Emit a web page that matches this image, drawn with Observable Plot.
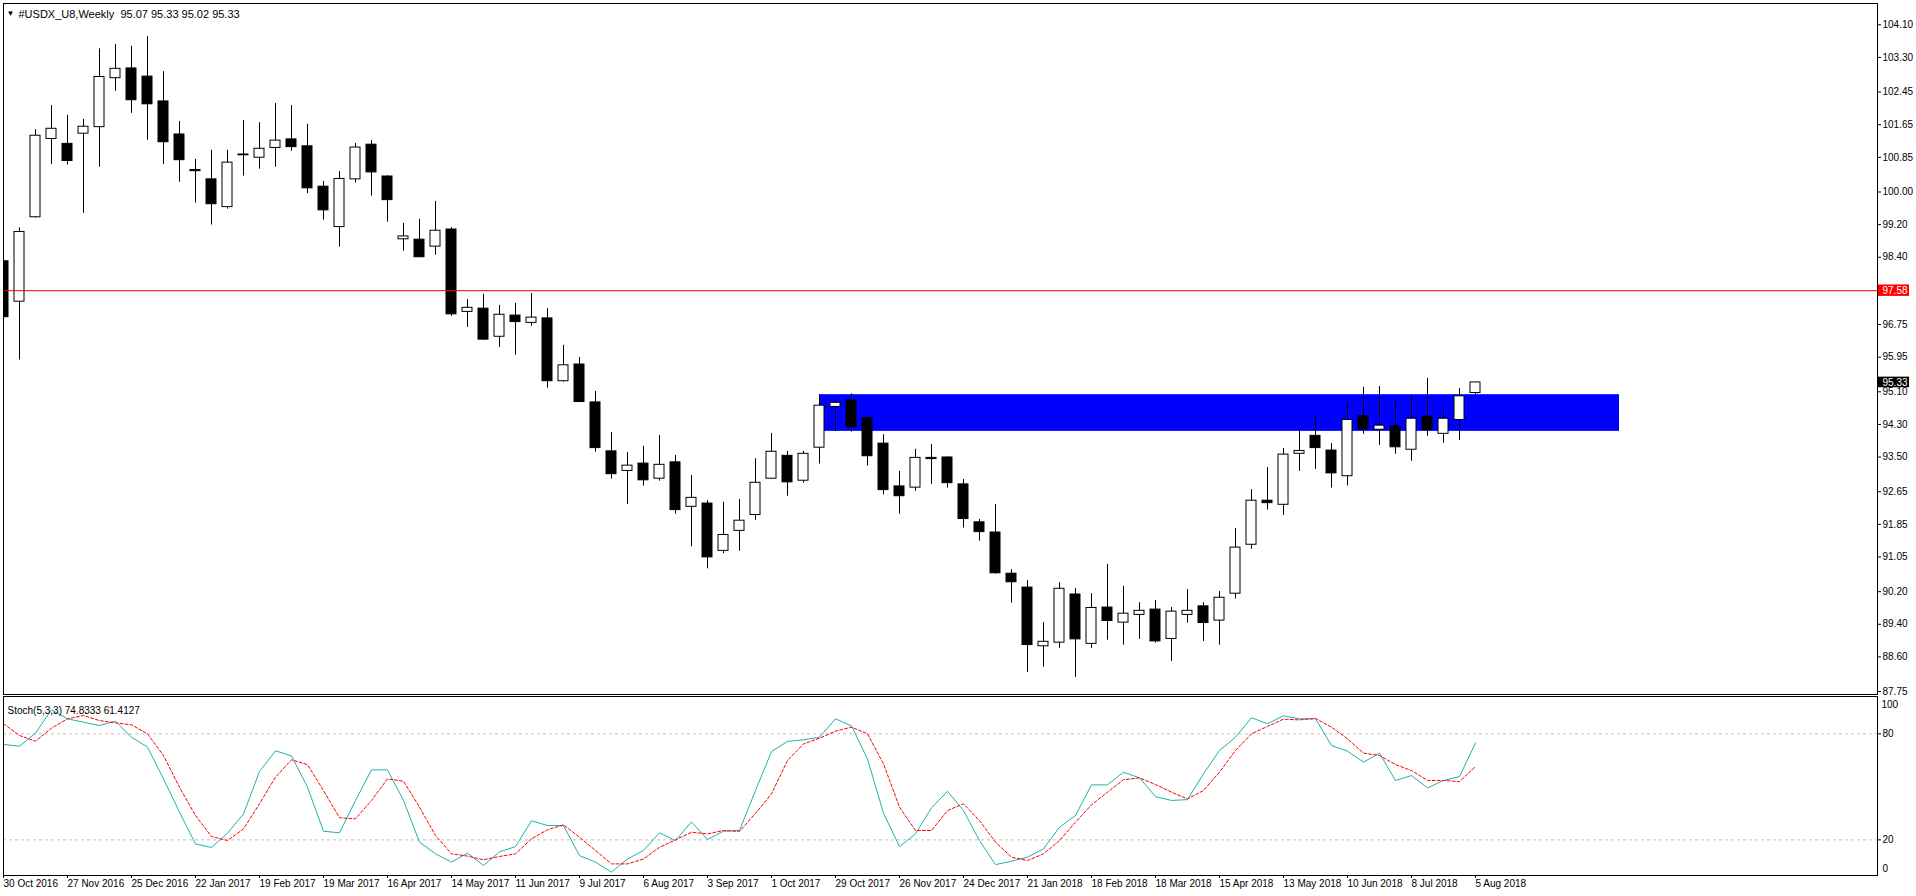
<!DOCTYPE html>
<html><head><meta charset="utf-8">
<script src="https://cdn.jsdelivr.net/npm/d3@7"></script>
<script src="https://cdn.jsdelivr.net/npm/@observablehq/plot@0.6"></script>
<style>
html,body{margin:0;padding:0;background:#fff;}
#wrap{position:relative;width:1916px;height:896px;overflow:hidden;background:#fff;}
#main,#stoch{position:absolute;left:0;}
#main{top:0;}
#stoch{top:695px;}
svg{background:transparent !important;overflow:visible;}
</style></head><body><div id="wrap"><div id="main"></div><div id="stoch"></div></div>
<script>
// ---- data (weekly candles, 30 Oct 2016 .. 5 Aug 2018) ----
const opens  = [98.30,97.31,99.38,101.30,101.18,101.43,101.59,102.79,103.03,102.83,102.22,101.41,100.54,100.31,99.63,100.92,100.84,101.08,101.29,101.12,100.13,99.14,100.31,101.16,100.38,98.84,98.83,98.66,99.08,97.06,97.14,96.45,96.97,96.79,96.90,95.36,95.77,94.84,93.64,93.16,93.34,92.97,93.37,92.28,92.36,91.20,91.69,92.08,92.97,93.53,92.92,93.73,94.73,94.89,94.45,93.83,92.78,92.75,93.48,93.49,92.83,91.90,91.65,90.64,90.30,88.86,88.95,90.13,88.92,89.81,89.44,89.63,89.76,89.04,89.63,89.84,89.49,90.15,91.35,92.43,92.33,93.58,94.02,93.66,93.03,94.51,94.17,94.25,93.68,94.49,94.07,94.41,95.07];
const highs  = [98.66,99.12,101.53,102.12,101.88,101.78,103.51,103.62,103.57,103.81,102.95,101.73,100.80,101.02,101.02,101.75,101.70,102.17,102.12,101.66,100.26,100.50,101.19,101.26,100.40,99.23,99.33,99.77,99.13,97.36,97.49,97.22,97.27,97.51,97.14,96.24,95.94,95.11,94.10,93.61,93.76,94.03,93.54,93.05,92.43,92.39,92.46,93.46,94.08,93.64,93.64,95.03,94.89,95.05,94.52,94.05,93.15,93.69,93.81,93.50,92.95,91.97,92.34,90.74,90.47,89.44,90.42,90.28,90.15,90.87,90.33,89.93,89.98,89.81,90.25,89.93,90.20,91.75,92.70,93.24,93.71,94.17,94.47,93.83,94.81,95.21,95.23,94.86,94.99,95.43,94.69,95.18,95.33];
const lows   = [96.90,95.88,99.36,100.67,100.66,99.48,100.61,102.47,101.93,101.27,100.67,100.24,99.73,99.19,99.58,100.39,100.56,100.61,101.00,99.96,99.31,98.65,100.22,99.90,99.26,98.55,98.39,98.45,96.95,96.68,96.36,96.19,96.00,96.71,95.19,95.34,94.84,93.62,92.96,92.34,92.79,92.91,92.10,91.30,90.76,91.13,91.19,91.95,92.96,92.54,92.86,93.33,94.13,94.11,93.28,92.57,92.10,92.66,92.83,92.74,91.76,91.44,90.63,89.92,88.22,88.35,88.81,88.10,88.81,89.01,88.89,89.03,88.94,88.49,89.43,88.98,88.89,90.02,91.24,92.20,92.07,93.15,93.20,92.74,92.79,94.06,93.79,93.57,93.40,94.01,93.84,93.91,95.02];
const closes = [96.93,99.02,101.38,101.55,100.76,101.60,102.82,103.02,102.25,102.15,101.22,100.78,100.51,99.70,100.72,100.90,101.06,101.26,101.10,100.09,99.55,100.32,101.09,100.48,99.80,98.91,98.40,99.05,97.00,97.16,96.38,96.99,96.81,96.92,95.36,95.75,94.85,93.72,93.08,93.29,92.93,93.31,92.20,92.50,91.04,91.59,91.94,92.87,93.63,92.88,93.58,94.76,94.83,94.23,93.52,92.69,92.54,93.48,93.45,92.86,91.98,91.66,90.65,90.43,88.89,88.97,90.27,89.03,89.80,89.48,89.66,89.73,88.98,89.71,89.73,89.43,90.05,91.28,92.43,92.37,93.56,93.65,93.72,93.10,94.41,94.18,94.27,93.74,94.44,94.16,94.44,94.99,95.33];

// Stochastic (5,3,3): %K main line and %D signal line
const stochK = [74.0,73.0,80.4,93.6,88.5,86.6,84.7,87.2,78.1,72.5,54.5,35.7,17.7,15.7,23.8,34.7,58.7,70.4,67.5,49.8,24.9,24.0,42.3,59.6,59.6,42.3,18.7,12.1,7.4,12.5,5.5,13.2,16.2,30.8,28.1,28.1,11.1,7.4,1.7,9.2,14.0,24.0,19.6,30.2,20.2,24.9,25.3,47.9,70.0,75.7,76.6,78.1,88.5,84.5,65.8,35.1,16.2,23.4,38.1,47.5,36.6,19.6,6.0,7.9,10.2,14.9,27.2,33.8,51.1,51.1,58.3,55.1,44.5,42.3,42.8,57.4,70.6,78.1,89.1,85.7,90.2,88.5,88.5,73.4,70.2,64.0,69.1,53.6,56.4,49.4,53.6,55.8,74.83];
const stochD = [85.7,79.1,75.8,83.2,88.5,90.4,87.5,86.2,85.1,80.0,67.7,49.8,33.8,21.9,19.6,26.2,40.4,55.5,65.3,62.6,47.9,32.5,31.9,42.3,54.5,53.2,38.5,22.5,12.1,10.8,8.7,10.6,12.1,20.6,25.7,28.5,21.5,14.0,6.4,6.4,9.2,15.8,20.0,24.3,23.4,25.3,24.8,35.0,46.0,64.9,74.3,77.5,81.5,83.8,80.0,63.0,38.5,25.3,25.3,36.6,40.4,30.9,18.7,10.2,8.3,12.1,19.6,30.0,39.8,47.0,54.0,55.1,51.3,47.0,43.2,47.9,58.3,70.6,80.0,84.2,88.3,87.9,88.7,83.8,77.2,69.1,67.7,62.6,59.2,53.6,53.6,53.0,61.41];

// Axis labels
const dateLabels = ["30 Oct 2016","27 Nov 2016","25 Dec 2016","22 Jan 2017","19 Feb 2017","19 Mar 2017","16 Apr 2017","14 May 2017","11 Jun 2017","9 Jul 2017","6 Aug 2017","3 Sep 2017","1 Oct 2017","29 Oct 2017","26 Nov 2017","24 Dec 2017","21 Jan 2018","18 Feb 2018","18 Mar 2018","15 Apr 2018","13 May 2018","10 Jun 2018","8 Jul 2018","5 Aug 2018"];
const priceTicks = [104.10,103.30,102.45,101.65,100.85,100.00,99.20,98.40,96.75,95.95,95.10,94.30,93.50,92.65,91.85,91.05,90.20,89.40,88.60,87.75];
const stochLevels = [80,20];
const stochTop = [100];
const stochBottom = [0];

// Objects drawn on the chart
const zoneWeeks = [51,101];
const zonePrices = [94.13,95.03];
const hLine = 97.58;
const lastPrice = 95.33;
const titleText = "#USDX_U8,Weekly\u00a0\u00a095.07 95.33 95.02 95.33";
const stochTitle = "Stoch(5,3,3) 74.8333 61.4127";

// ---- build ----
const FONT = "'Liberation Sans',Arial,sans-serif";
const FS = 10;
const candles = opens.map((o,i)=>({i,o,h:highs[i],l:lows[i],c:closes[i],up:closes[i]>=o}));
const stoch = stochK.map((k,i)=>({i,k,d:stochD[i]}));
const xDomain = [0,117.125];
const halfBody = 0.3125;
const xEnd = xDomain[1];

const main = Plot.plot({
  width:1916, height:705,
  marginLeft:3, marginRight:39, marginTop:3, marginBottom:11,
  x:{domain:xDomain, axis:null},
  y:{domain:[87.678,104.622], axis:null},
  style:{fontFamily:FONT, fontSize:FS+"px", color:"black", background:"transparent", overflow:"visible"},
  marks:[
    Plot.rect([{}], {x1:()=>zoneWeeks[0], x2:()=>zoneWeeks[1], y1:()=>zonePrices[0], y2:()=>zonePrices[1], fill:"#0000ff", clip:true}),
    Plot.ruleX(candles, {x:"i", y1:"l", y2:"h", stroke:"black", strokeWidth:1, clip:true}),
    Plot.rect(candles, {x1:d=>d.i-halfBody, x2:d=>d.i+halfBody, y1:"o", y2:"c", fill:d=>d.up?"white":"black", stroke:"black", strokeWidth:1, clip:true}),
    Plot.ruleY([hLine], {stroke:"#ff0000", strokeWidth:1, clip:true}),
    Plot.frame({stroke:"black"}),
    Plot.axisY(priceTicks, {anchor:"right", tickFormat:d=>d.toFixed(2), tickSize:3, tickPadding:2, stroke:"black", fill:"black", fontSize:FS, label:null}),
    // price boxes on the axis
    Plot.rect([hLine], {x1:xEnd+0.06, x2:xEnd+2.0, y1:d=>d-0.14, y2:d=>d+0.14, fill:"#ff0000"}),
    Plot.text([hLine], {x:xEnd, y:d=>d, text:d=>d.toFixed(2), dx:5, textAnchor:"start", fill:"white", fontSize:FS}),
    Plot.rect([lastPrice], {x1:xEnd+0.06, x2:xEnd+2.0, y1:d=>d-0.13, y2:d=>d+0.13, fill:"black"}),
    Plot.text([lastPrice], {x:xEnd, y:d=>d, text:d=>d.toFixed(2), dx:5, textAnchor:"start", fill:"white", fontSize:FS}),
    // title
    Plot.text(["\u25BC"], {frameAnchor:"top-left", dx:3, dy:7, fontSize:8, fill:"black"}),
    Plot.text([titleText], {frameAnchor:"top-left", dx:15, dy:7, textAnchor:"start", fontSize:FS+1, fill:"black"})
  ]
});
document.getElementById("main").appendChild(main);

const st = Plot.plot({
  width:1916, height:201,
  marginLeft:3, marginRight:39, marginTop:1, marginBottom:21,
  x:{domain:xDomain, axis:null},
  y:{domain:[-0.17,101.13], axis:null},
  style:{fontFamily:FONT, fontSize:FS+"px", color:"black", background:"transparent", overflow:"visible"},
  marks:[
    Plot.ruleY(stochLevels, {stroke:"#c0c0c0", strokeDasharray:"3,3"}),
    Plot.line(stoch, {x:"i", y:"k", stroke:"#20b2aa", strokeWidth:1}),
    Plot.line(stoch, {x:"i", y:"d", stroke:"#ff0000", strokeWidth:1, strokeDasharray:"3,2"}),
    Plot.frame({stroke:"black"}),
    Plot.axisY(stochLevels, {anchor:"right", tickSize:3, tickPadding:2, fontSize:FS, fill:"black", label:null}),
    Plot.text(stochTop, {x:xEnd, y:d=>d, text:d=>String(d), dx:4, dy:6, textAnchor:"start", fontSize:FS, fill:"black"}),
    Plot.text(stochBottom, {x:xEnd, y:d=>d, text:d=>String(d), dx:5, dy:-6, textAnchor:"start", fontSize:FS, fill:"black"}),
    Plot.axisX(dateLabels.map((_,k)=>k*4), {anchor:"bottom", tickFormat:i=>dateLabels[i/4], textAnchor:"start", tickSize:3, tickPadding:1, fontSize:FS, fill:"black", label:null}),
    Plot.text([stochTitle], {frameAnchor:"top-left", dx:4, dy:10, textAnchor:"start", fontSize:FS, fill:"black"})
  ]
});
document.getElementById("stoch").appendChild(st);
</script>
</body></html>
